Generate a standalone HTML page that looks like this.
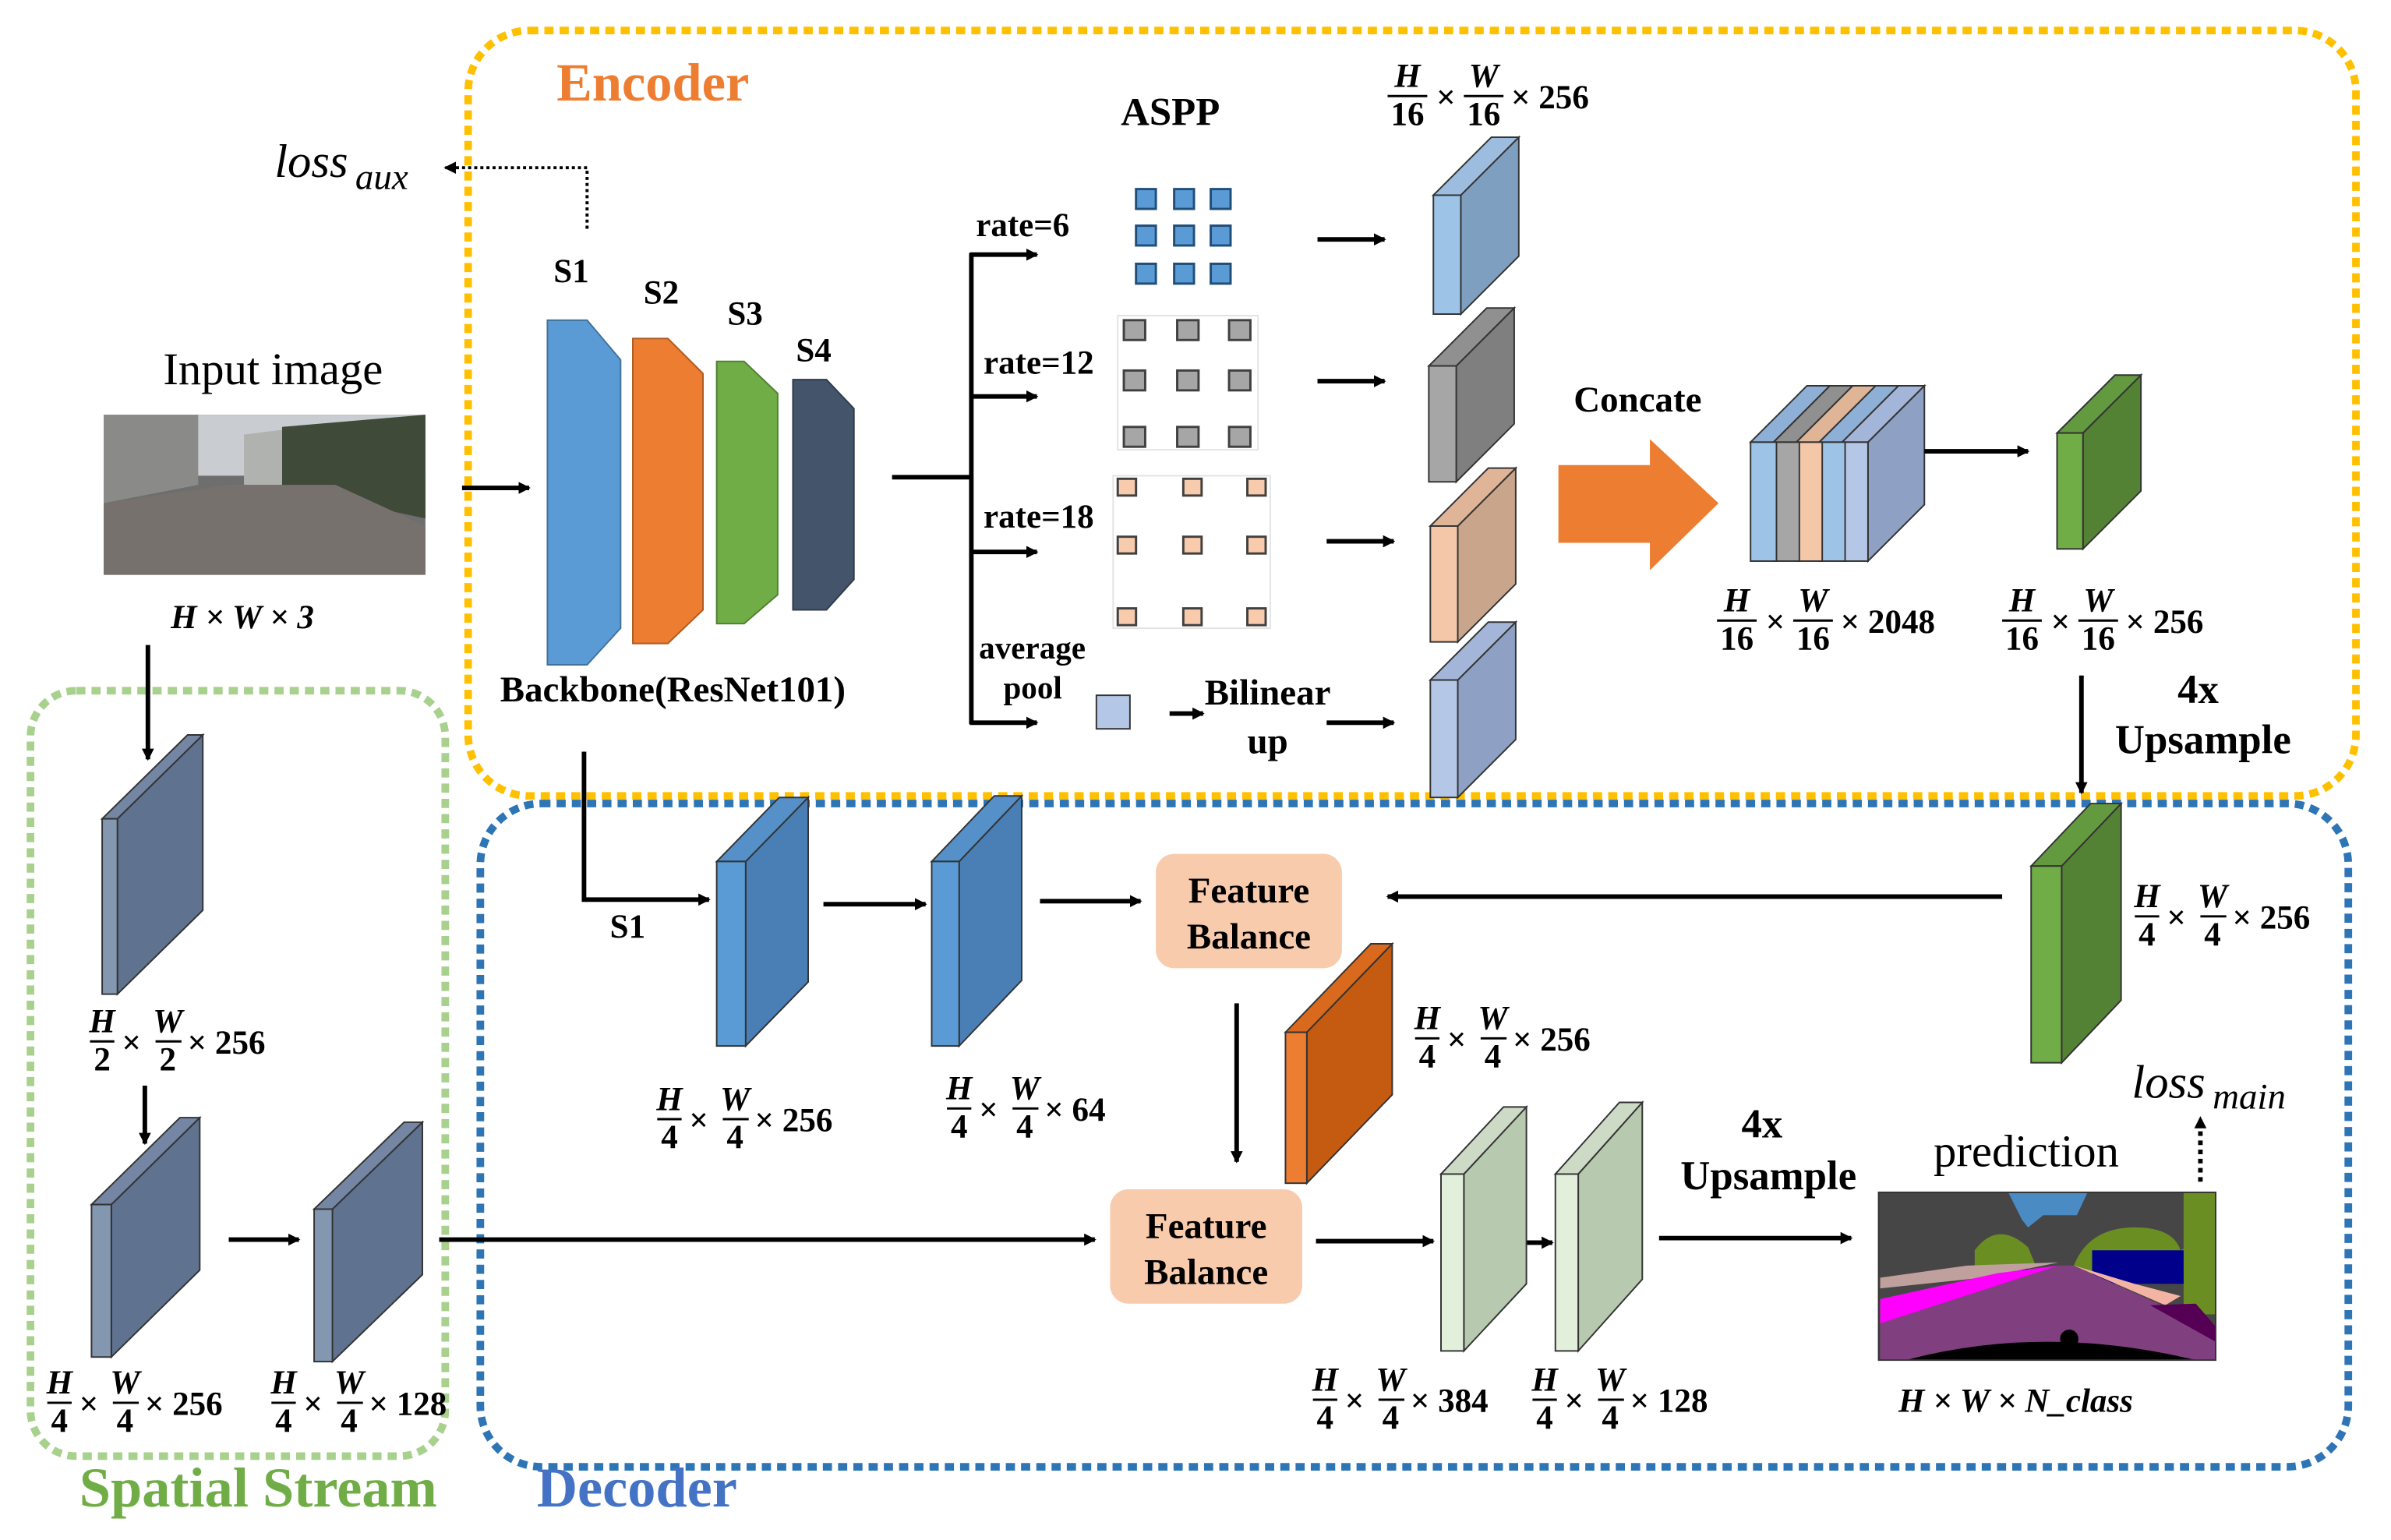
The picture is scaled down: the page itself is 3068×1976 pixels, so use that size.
<!DOCTYPE html>
<html><head><meta charset="utf-8"><style>
html,body{margin:0;padding:0;background:#fff;}
svg{display:block}
text{font-family:"Liberation Serif",serif;}
.b{font-weight:bold}
.f{font-weight:bold;font-size:22px}
.fi{font-weight:bold;font-style:italic;font-size:22px}
</style></head><body>
<svg width="3068" height="1976" viewBox="0 0 1568 1010" preserveAspectRatio="none" xmlns="http://www.w3.org/2000/svg">
<defs>
<marker id="a" markerWidth="8" markerHeight="8" refX="7" refY="4" orient="auto" markerUnits="userSpaceOnUse"><path d="M0,0 L8,4 L0,8 z" fill="#000"/></marker>
</defs>
<rect width="1568" height="1010" fill="#fff"/>
<!-- dashed boxes -->
<rect x="307" y="20" width="1238" height="502" rx="40" fill="none" stroke="#ffc000" stroke-width="5" stroke-dasharray="6 4"/>
<rect x="20" y="453" width="272" height="502" rx="30" fill="none" stroke="#a9d18e" stroke-width="5" stroke-dasharray="6 4"/>
<rect x="315" y="527" width="1225" height="435" rx="40" fill="none" stroke="#2e75b6" stroke-width="5" stroke-dasharray="6 4"/>
<text x="365" y="66" class="b" font-size="35" fill="#ed7d31">Encoder</text>
<text x="52" y="988" class="b" font-size="37" fill="#70ad47">Spatial Stream</text>
<text x="352" y="988" class="b" font-size="37" fill="#4472c4">Decoder</text>

<!-- input image -->
<text x="107" y="252" font-size="30">Input image</text>
<rect x="68" y="272" width="211" height="105" fill="#6e6e6e"/>
<rect x="68" y="272" width="211" height="40" fill="#c9ccd0"/>
<polygon points="68,272 130,272 130,318 68,330" fill="#8a8a88"/>
<polygon points="160,285 200,280 200,318 160,318" fill="#b0b2b0"/>
<polygon points="185,280 279,272 279,340 185,320" fill="#3f4a38"/>
<polygon points="68,330 150,318 220,318 279,345 279,377 68,377" fill="#77716e"/>
<text x="112" y="412" class="fi" font-size="25">H × W × 3</text>

<!-- loss aux -->
<text x="180" y="116" font-size="31" font-style="italic">loss</text><text x="233" y="124" font-size="24" font-style="italic">aux</text>
<polyline points="385,150 385,110 292,110" fill="none" stroke="#000" stroke-width="2" stroke-dasharray="2 2" marker-end="url(#a)"/>

<!-- backbone -->
<text x="363" y="185" class="b" font-size="22">S1</text>
<text x="422" y="199" class="b" font-size="22">S2</text>
<text x="477" y="213" class="b" font-size="22">S3</text>
<text x="522" y="237" class="b" font-size="22">S4</text>
<polygon points="359,210 385,210 407,236 407,412 385,436 359,436" fill="#5b9bd5" stroke="#41719c"/>
<polygon points="415,222 438,222 461,245 461,400 438,422 415,422" fill="#ed7d31" stroke="#ae5a21"/>
<polygon points="470,237 488,237 510,258 510,390 488,409 470,409" fill="#70ad47" stroke="#507e32"/>
<polygon points="520,249 542,249 560,268 560,380 542,400 520,400" fill="#44546a" stroke="#2f3b4b"/>
<text x="328" y="460" class="b" font-size="24">Backbone(ResNet101)</text>
<line x1="303" y1="320" x2="347" y2="320" stroke="#000" stroke-width="3" marker-end="url(#a)"/>

<!-- branches -->
<g stroke="#000" stroke-width="3" fill="none">
<line x1="585" y1="313" x2="637" y2="313"/>
<line x1="637" y1="166" x2="637" y2="475"/>
<line x1="636" y1="167" x2="680" y2="167" marker-end="url(#a)"/>
<line x1="636" y1="260" x2="680" y2="260" marker-end="url(#a)"/>
<line x1="636" y1="362" x2="680" y2="362" marker-end="url(#a)"/>
<line x1="636" y1="474" x2="680" y2="474" marker-end="url(#a)"/>
<line x1="864" y1="157" x2="908" y2="157" marker-end="url(#a)"/>
<line x1="864" y1="250" x2="908" y2="250" marker-end="url(#a)"/>
<line x1="870" y1="355" x2="914" y2="355" marker-end="url(#a)"/>
<line x1="870" y1="474" x2="914" y2="474" marker-end="url(#a)"/>
<line x1="767" y1="468" x2="789" y2="468" marker-end="url(#a)"/>
</g>
<text x="735" y="82" class="b" font-size="26">ASPP</text>
<text x="640" y="155" class="b" font-size="22">rate=6</text>
<text x="645" y="245" class="b" font-size="22">rate=12</text>
<text x="645" y="346" class="b" font-size="22">rate=18</text>
<text x="642" y="432" class="b" font-size="21">average</text>
<text x="658" y="458" class="b" font-size="21">pool</text>
<text x="790" y="462" class="b" font-size="24">Bilinear</text>
<text x="818" y="494" class="b" font-size="24">up</text>
<rect x="719" y="456" width="22" height="22" fill="#b4c7e7" stroke="#333"/>

<!-- grids -->
<g fill="#5b9bd5" stroke="#1f4e79" stroke-width="1.5">
<rect x="745" y="124" width="13" height="13"/><rect x="770" y="124" width="13" height="13"/><rect x="794" y="124" width="13" height="13"/>
<rect x="745" y="148" width="13" height="13"/><rect x="770" y="148" width="13" height="13"/><rect x="794" y="148" width="13" height="13"/>
<rect x="745" y="173" width="13" height="13"/><rect x="770" y="173" width="13" height="13"/><rect x="794" y="173" width="13" height="13"/>
</g>
<rect x="733" y="207" width="92" height="88" fill="none" stroke="#e3e3e3"/>
<g fill="#a6a6a6" stroke="#404040" stroke-width="1.5">
<rect x="737" y="210" width="14" height="13"/><rect x="772" y="210" width="14" height="13"/><rect x="806" y="210" width="14" height="13"/>
<rect x="737" y="243" width="14" height="13"/><rect x="772" y="243" width="14" height="13"/><rect x="806" y="243" width="14" height="13"/>
<rect x="737" y="280" width="14" height="13"/><rect x="772" y="280" width="14" height="13"/><rect x="806" y="280" width="14" height="13"/>
</g>
<rect x="730" y="312" width="103" height="100" fill="none" stroke="#e3e3e3"/>
<g fill="#f8cbad" stroke="#404040" stroke-width="1.5">
<rect x="733" y="314" width="12" height="11"/><rect x="776" y="314" width="12" height="11"/><rect x="818" y="314" width="12" height="11"/>
<rect x="733" y="352" width="12" height="11"/><rect x="776" y="352" width="12" height="11"/><rect x="818" y="352" width="12" height="11"/>
<rect x="733" y="399" width="12" height="11"/><rect x="776" y="399" width="12" height="11"/><rect x="818" y="399" width="12" height="11"/>
</g>

<!-- ASPP output boxes -->
<g stroke="#333" stroke-width="1">
<polygon points="958,128 996,90 996,168 958,206" fill="#7f9fc0"/><polygon points="940,128 978,90 996,90 958,128" fill="#9dbde0"/><rect x="940" y="128" width="18" height="78" fill="#9dc3e6"/>
<polygon points="955,240 993,202 993,278 955,316" fill="#7f7f7f"/><polygon points="937,240 975,202 993,202 955,240" fill="#909090"/><rect x="937" y="240" width="18" height="76" fill="#a6a6a6"/>
<polygon points="956,345 994,307 994,383 956,421" fill="#c9a58c"/><polygon points="938,345 976,307 994,307 956,345" fill="#e0b597"/><rect x="938" y="345" width="18" height="76" fill="#f4c7a8"/>
<polygon points="956,446 994,408 994,485 956,523" fill="#8ea0c4"/><polygon points="938,446 976,408 994,408 956,446" fill="#a3b5d8"/><rect x="938" y="446" width="18" height="77" fill="#b4c7e7"/>
</g>

<!-- concat -->
<text x="1032" y="270" class="b" font-size="24">Concate</text>
<polygon points="1022,305 1082,305 1082,288 1127,330 1082,374 1082,356 1022,356" fill="#ed7d31"/>
<g stroke="#333" stroke-width="1">
<polygon points="1225,290 1262,253 1262,331 1225,368" fill="#8ea0c4"/><polygon points="1208,290 1245,253 1262,253 1225,290" fill="#a3b5d8"/><rect x="1208" y="290" width="17" height="78" fill="#b4c7e7"/>
<polygon points="1193,290 1230,253 1245,253 1208,290" fill="#8fb0d6"/><rect x="1193" y="290" width="17" height="78" fill="#9dc3e6"/>
<polygon points="1178,290 1215,253 1230,253 1193,290" fill="#e0b597"/><rect x="1178" y="290" width="17" height="78" fill="#f4c7a8"/>
<polygon points="1163,290 1200,253 1215,253 1178,290" fill="#909090"/><rect x="1163" y="290" width="17" height="78" fill="#a6a6a6"/>
<polygon points="1148,290 1185,253 1200,253 1163,290" fill="#8fb0d6"/><rect x="1148" y="290" width="17" height="78" fill="#9dc3e6"/>
</g>
<line x1="1262" y1="296" x2="1330" y2="296" stroke="#000" stroke-width="3" marker-end="url(#a)"/>
<g stroke="#333" stroke-width="1">
<polygon points="1366,284 1404,246 1404,322 1366,360" fill="#548235"/><polygon points="1349,284 1387,246 1404,246 1366,284" fill="#63993f"/><rect x="1349" y="284" width="17" height="76" fill="#70ad47"/>
</g>
<line x1="1365" y1="443" x2="1365" y2="520" stroke="#000" stroke-width="3" marker-end="url(#a)"/>
<text x="1428" y="461" class="b" font-size="27">4x</text>
<text x="1387" y="494" class="b" font-size="27">Upsample</text>

<!-- decoder green -->
<g stroke="#333" stroke-width="1">
<polygon points="1352,568 1391,527 1391,656 1352,697" fill="#548235"/><polygon points="1332,568 1371,527 1391,527 1352,568" fill="#63993f"/><rect x="1332" y="568" width="20" height="129" fill="#70ad47"/>
</g>
<line x1="1313" y1="588" x2="910" y2="588" stroke="#000" stroke-width="3" marker-end="url(#a)"/>

<!-- feature balance -->
<rect x="758" y="560" width="122" height="75" rx="12" fill="#f8cbad"/>
<text x="819" y="592" class="b" font-size="24" text-anchor="middle">Feature</text>
<text x="819" y="622" class="b" font-size="24" text-anchor="middle">Balance</text>
<rect x="728" y="780" width="126" height="75" rx="12" fill="#f8cbad"/>
<text x="791" y="812" class="b" font-size="24" text-anchor="middle">Feature</text>
<text x="791" y="842" class="b" font-size="24" text-anchor="middle">Balance</text>

<g stroke="#000" stroke-width="3" fill="none">
<polyline points="383,493 383,590 465,590" marker-end="url(#a)"/>
<line x1="540" y1="593" x2="607" y2="593" marker-end="url(#a)"/>
<line x1="682" y1="591" x2="748" y2="591" marker-end="url(#a)"/>
<line x1="811" y1="658" x2="811" y2="762" marker-end="url(#a)"/>
<line x1="288" y1="813" x2="718" y2="813" marker-end="url(#a)"/>
<line x1="863" y1="814" x2="940" y2="814" marker-end="url(#a)"/>
<line x1="975" y1="815" x2="1018" y2="815" marker-end="url(#a)"/>
<line x1="1088" y1="812" x2="1214" y2="812" marker-end="url(#a)"/>
<line x1="97" y1="423" x2="97" y2="498" marker-end="url(#a)"/>
<line x1="95" y1="712" x2="95" y2="750" marker-end="url(#a)"/>
<line x1="150" y1="813" x2="196" y2="813" marker-end="url(#a)"/>
</g>
<line x1="1443" y1="775" x2="1443" y2="733" stroke="#000" stroke-width="3" stroke-dasharray="3 3" marker-end="url(#a)"/>
<text x="400" y="615" class="b" font-size="22">S1</text>

<!-- decoder boxes -->
<g stroke="#333" stroke-width="1">
<polygon points="489,565 530,523 530,644 489,686" fill="#4a7fb5"/><polygon points="470,565 511,523 530,523 489,565" fill="#5590c8"/><rect x="470" y="565" width="19" height="121" fill="#5b9bd5"/>
<polygon points="629,565 670,522 670,643 629,686" fill="#4a7fb5"/><polygon points="611,565 652,522 670,522 629,565" fill="#5590c8"/><rect x="611" y="565" width="18" height="121" fill="#5b9bd5"/>
<polygon points="857,677 913,619 913,718 857,776" fill="#c55a11"/><polygon points="843,677 899,619 913,619 857,677" fill="#d9691c"/><rect x="843" y="677" width="14" height="99" fill="#ed7d31"/>
<polygon points="960,770 1001,726 1001,842 960,886" fill="#b7c9ae"/><polygon points="945,770 986,726 1001,726 960,770" fill="#cddbc6"/><rect x="945" y="770" width="15" height="116" fill="#e2efda"/>
<polygon points="1035,770 1077,723 1077,839 1035,886" fill="#b7c9ae"/><polygon points="1020,770 1062,723 1077,723 1035,770" fill="#cddbc6"/><rect x="1020" y="770" width="15" height="116" fill="#e2efda"/>
<!-- spatial -->
<polygon points="77,537 133,482 133,597 77,652" fill="#5f7290"/><polygon points="67,537 123,482 133,482 77,537" fill="#7486a3"/><rect x="67" y="537" width="10" height="115" fill="#8497b0"/>
<polygon points="73,790 131,733 131,833 73,890" fill="#5f7290"/><polygon points="60,790 118,733 131,733 73,790" fill="#7486a3"/><rect x="60" y="790" width="13" height="100" fill="#8497b0"/>
<polygon points="218,793 277,736 277,836 218,893" fill="#5f7290"/><polygon points="206,793 265,736 277,736 218,793" fill="#7486a3"/><rect x="206" y="793" width="12" height="100" fill="#8497b0"/>
</g>

<text x="1142" y="746" class="b" font-size="27">4x</text>
<text x="1102" y="780" class="b" font-size="27">Upsample</text>
<text x="1268" y="765" font-size="30">prediction</text>
<text x="1398" y="720" font-size="31" font-style="italic">loss</text><text x="1451" y="727" font-size="24" font-style="italic">main</text>

<!-- prediction -->
<rect x="1232" y="782" width="221" height="110" fill="#464646"/>
<polygon points="1317,782 1369,782 1362,797 1340,797 1330,805 1326,800" fill="#4a8bc4"/>
<path d="M1295,820 Q1310,800 1330,818 L1335,830 L1295,832 z" fill="#6b8e23"/>
<path d="M1360,830 Q1370,805 1400,805 Q1425,805 1430,820 L1440,815 L1453,800 L1453,782 L1432,782 L1440,835 L1360,840 z" fill="#6b8e23"/>
<rect x="1432" y="782" width="21" height="80" fill="#6b8e23"/>
<rect x="1372" y="820" width="60" height="22" fill="#00008b"/>
<rect x="1290" y="830" width="40" height="8" fill="#00008b"/>
<polygon points="1233,838 1290,830 1350,828 1300,838 1233,845" fill="#bfa09c"/>
<polygon points="1233,852 1310,835 1350,830 1233,868" fill="#f0f"/>
<polygon points="1350,830 1360,830 1453,872 1453,892 1233,892 1233,868" fill="#80407f"/>
<polygon points="1360,830 1400,842 1430,850 1420,856" fill="#f4b4a4"/>
<polygon points="1410,856 1440,855 1453,870 1453,880" fill="#550055"/>
<path d="M1250,892 Q1340,868 1440,892 z" fill="#000"/>
<circle cx="1357" cy="878" r="6" fill="#000"/>
<rect x="1232" y="782" width="221" height="110" fill="none" stroke="#333"/>
<text x="1245" y="926" class="fi" font-size="25">H × W × N_class</text>

<!-- fraction labels -->
<g class="f">
<g transform="translate(910,63)"><text x="13" y="-6" class="fi" text-anchor="middle">H</text><line x1="0" x2="26" stroke="#000" stroke-width="1.5"/><text x="13" y="19" class="f" text-anchor="middle">16</text><text x="32" y="8" class="f">×</text><text x="63" y="-6" class="fi" text-anchor="middle">W</text><line x1="50" x2="76" stroke="#000" stroke-width="1.5"/><text x="63" y="19" class="f" text-anchor="middle">16</text><text x="81" y="8" class="f">× 256</text></g>
<g transform="translate(1126,407)"><text x="13" y="-6" class="fi" text-anchor="middle">H</text><line x1="0" x2="26" stroke="#000" stroke-width="1.5"/><text x="13" y="19" class="f" text-anchor="middle">16</text><text x="32" y="8" class="f">×</text><text x="63" y="-6" class="fi" text-anchor="middle">W</text><line x1="50" x2="76" stroke="#000" stroke-width="1.5"/><text x="63" y="19" class="f" text-anchor="middle">16</text><text x="81" y="8" class="f">× 2048</text></g>
<g transform="translate(1313,407)"><text x="13" y="-6" class="fi" text-anchor="middle">H</text><line x1="0" x2="26" stroke="#000" stroke-width="1.5"/><text x="13" y="19" class="f" text-anchor="middle">16</text><text x="32" y="8" class="f">×</text><text x="63" y="-6" class="fi" text-anchor="middle">W</text><line x1="50" x2="76" stroke="#000" stroke-width="1.5"/><text x="63" y="19" class="f" text-anchor="middle">16</text><text x="81" y="8" class="f">× 256</text></g>
<g transform="translate(1400,601)"><text x="8" y="-6" class="fi" text-anchor="middle">H</text><line x1="0" x2="16" stroke="#000" stroke-width="1.5"/><text x="8" y="19" class="f" text-anchor="middle">4</text><text x="21" y="8" class="f">×</text><text x="51" y="-6" class="fi" text-anchor="middle">W</text><line x1="43" x2="60" stroke="#000" stroke-width="1.5"/><text x="51" y="19" class="f" text-anchor="middle">4</text><text x="64" y="8" class="f">× 256</text></g>
<g transform="translate(59,683)"><text x="8" y="-6" class="fi" text-anchor="middle">H</text><line x1="0" x2="16" stroke="#000" stroke-width="1.5"/><text x="8" y="19" class="f" text-anchor="middle">2</text><text x="21" y="8" class="f">×</text><text x="51" y="-6" class="fi" text-anchor="middle">W</text><line x1="43" x2="60" stroke="#000" stroke-width="1.5"/><text x="51" y="19" class="f" text-anchor="middle">2</text><text x="64" y="8" class="f">× 256</text></g>
<g transform="translate(31,920)"><text x="8" y="-6" class="fi" text-anchor="middle">H</text><line x1="0" x2="16" stroke="#000" stroke-width="1.5"/><text x="8" y="19" class="f" text-anchor="middle">4</text><text x="21" y="8" class="f">×</text><text x="51" y="-6" class="fi" text-anchor="middle">W</text><line x1="43" x2="60" stroke="#000" stroke-width="1.5"/><text x="51" y="19" class="f" text-anchor="middle">4</text><text x="64" y="8" class="f">× 256</text></g>
<g transform="translate(178,920)"><text x="8" y="-6" class="fi" text-anchor="middle">H</text><line x1="0" x2="16" stroke="#000" stroke-width="1.5"/><text x="8" y="19" class="f" text-anchor="middle">4</text><text x="21" y="8" class="f">×</text><text x="51" y="-6" class="fi" text-anchor="middle">W</text><line x1="43" x2="60" stroke="#000" stroke-width="1.5"/><text x="51" y="19" class="f" text-anchor="middle">4</text><text x="64" y="8" class="f">× 128</text></g>
<g transform="translate(431,734)"><text x="8" y="-6" class="fi" text-anchor="middle">H</text><line x1="0" x2="16" stroke="#000" stroke-width="1.5"/><text x="8" y="19" class="f" text-anchor="middle">4</text><text x="21" y="8" class="f">×</text><text x="51" y="-6" class="fi" text-anchor="middle">W</text><line x1="43" x2="60" stroke="#000" stroke-width="1.5"/><text x="51" y="19" class="f" text-anchor="middle">4</text><text x="64" y="8" class="f">× 256</text></g>
<g transform="translate(621,727)"><text x="8" y="-6" class="fi" text-anchor="middle">H</text><line x1="0" x2="16" stroke="#000" stroke-width="1.5"/><text x="8" y="19" class="f" text-anchor="middle">4</text><text x="21" y="8" class="f">×</text><text x="51" y="-6" class="fi" text-anchor="middle">W</text><line x1="43" x2="60" stroke="#000" stroke-width="1.5"/><text x="51" y="19" class="f" text-anchor="middle">4</text><text x="64" y="8" class="f">× 64</text></g>
<g transform="translate(928,681)"><text x="8" y="-6" class="fi" text-anchor="middle">H</text><line x1="0" x2="16" stroke="#000" stroke-width="1.5"/><text x="8" y="19" class="f" text-anchor="middle">4</text><text x="21" y="8" class="f">×</text><text x="51" y="-6" class="fi" text-anchor="middle">W</text><line x1="43" x2="60" stroke="#000" stroke-width="1.5"/><text x="51" y="19" class="f" text-anchor="middle">4</text><text x="64" y="8" class="f">× 256</text></g>
<g transform="translate(861,918)"><text x="8" y="-6" class="fi" text-anchor="middle">H</text><line x1="0" x2="16" stroke="#000" stroke-width="1.5"/><text x="8" y="19" class="f" text-anchor="middle">4</text><text x="21" y="8" class="f">×</text><text x="51" y="-6" class="fi" text-anchor="middle">W</text><line x1="43" x2="60" stroke="#000" stroke-width="1.5"/><text x="51" y="19" class="f" text-anchor="middle">4</text><text x="64" y="8" class="f">× 384</text></g>
<g transform="translate(1005,918)"><text x="8" y="-6" class="fi" text-anchor="middle">H</text><line x1="0" x2="16" stroke="#000" stroke-width="1.5"/><text x="8" y="19" class="f" text-anchor="middle">4</text><text x="21" y="8" class="f">×</text><text x="51" y="-6" class="fi" text-anchor="middle">W</text><line x1="43" x2="60" stroke="#000" stroke-width="1.5"/><text x="51" y="19" class="f" text-anchor="middle">4</text><text x="64" y="8" class="f">× 128</text></g>
</g>
</svg>
</body></html>
